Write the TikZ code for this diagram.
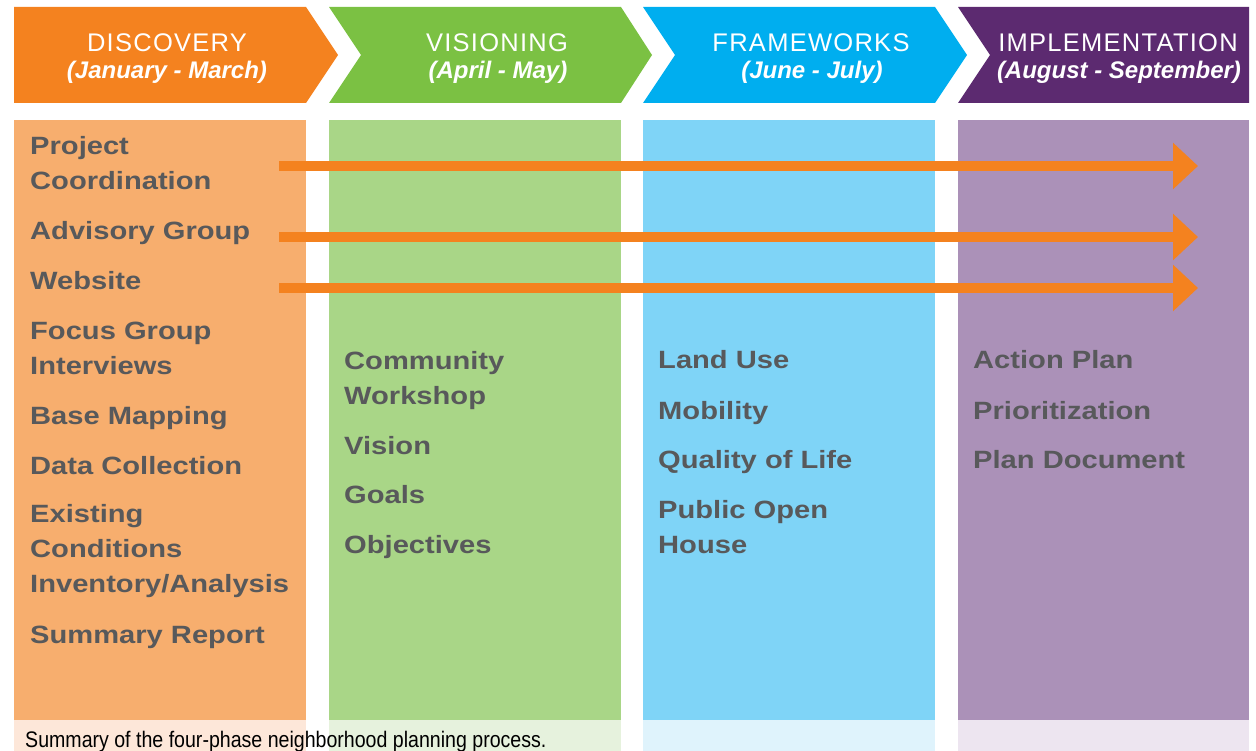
\documentclass[tikz,border=0pt]{standalone}
\usepackage{fontspec}
\setmainfont{Liberation Sans}
\newfontfamily\phasefont[LetterSpace=5]{Liberation Sans}
\newfontfamily\taskfont[FakeStretch=1.165]{Liberation Sans}
\newfontfamily\notefont[FakeStretch=0.87]{Liberation Sans}
\usepackage{tikz}
\usetikzlibrary{arrows.meta}

\definecolor{discHead}{HTML}{F4821F}
\definecolor{discBody}{HTML}{F7AE6E}
\definecolor{discPale}{HTML}{FDE7D9}
\definecolor{visHead}{HTML}{7BC143}
\definecolor{visBody}{HTML}{A9D687}
\definecolor{visPale}{HTML}{E6F2DD}
\definecolor{frameHead}{HTML}{00AEEF}
\definecolor{frameBody}{HTML}{7FD4F7}
\definecolor{framePale}{HTML}{DFF3FC}
\definecolor{implHead}{HTML}{5C2A70}
\definecolor{implBody}{HTML}{AB91B8}
\definecolor{implPale}{HTML}{EDE5F0}
\definecolor{taskGray}{HTML}{58595B}
\definecolor{barOrange}{HTML}{F4821F}

\begin{document}
\begin{tikzpicture}[x=1pt, y=-1pt,
    phase/.style={text=white, inner sep=0pt, anchor=base,
      font=\phasefont\fontsize{25.5}{28}\selectfont},
    months/.style={text=white, inner sep=0pt, anchor=base,
      font=\bfseries\itshape\fontsize{24}{28}\selectfont},
    task/.style={text=taskGray, inner sep=0pt, anchor=base west, align=left,
      font=\taskfont\bfseries\fontsize{25}{35}\selectfont},
    bar/.style={barOrange, line width=10pt, -{Triangle[length=25pt, width=45pt]}}]
    \useasboundingbox (0,0) rectangle (1256,751);

    % phase headers
    \fill[discHead] (14,7) -- (306,7) -- (338,55) -- (306,103) -- (14,103) -- cycle;
    \fill[visHead] (329,7) -- (621,7) -- (652,55) -- (621,103) -- (329,103) -- (361,55) -- cycle;
    \fill[frameHead] (643,7) -- (935,7) -- (967,55) -- (935,103) -- (643,103) -- (675,55) -- cycle;
    \fill[implHead] (958,7) -- (1249,7) -- (1249,103) -- (958,103) -- (990,55) -- cycle;

    % columns
    \fill[discBody] (14,120) rectangle (306,720);
    \fill[visBody] (329,120) rectangle (621,720);
    \fill[frameBody] (643,120) rectangle (935,720);
    \fill[implBody] (958,120) rectangle (1249,720);
    \fill[discPale] (14,720) rectangle (306,751);
    \fill[visPale] (329,720) rectangle (621,751);
    \fill[framePale] (643,720) rectangle (935,751);
    \fill[implPale] (958,720) rectangle (1249,751);

    \node[phase] (disc) at (167,52) {DISCOVERY};
    \node[months] (discM) at (167,79) {(January - March)};
    \node[phase] (vis) at (497,52) {VISIONING};
    \node[months] (visM) at (498,79) {(April - May)};
    \node[phase] (frame) at (811,52) {FRAMEWORKS};
    \node[months] (frameM) at (812,79) {(June - July)};
    \node[phase] (impl) at (1118,52) {IMPLEMENTATION};
    \node[months] (implM) at (1119,79) {(August - September)};

    % ongoing tasks
    \coordinate (coordL) at (279,166);
    \coordinate (coordR) at (1198,166);
    \coordinate (advisL) at (279,237);
    \coordinate (advisR) at (1198,237);
    \coordinate (webL) at (279,288);
    \coordinate (webR) at (1198,288);
    \draw[bar] (coordL) -- (coordR);
    \draw[bar] (advisL) -- (advisR);
    \draw[bar] (webL) -- (webR);

    % multi-line tasks sit on their last line
    \node[task] (coord) at (30,190) {Project\\Coordination};
    \node[task] (advis) at (30,240) {Advisory Group};
    \node[task] (web) at (30,290) {Website};
    \node[task] (focus) at (30,374) {Focus Group\\Interviews};
    \node[task] (mapping) at (30,424) {Base Mapping};
    \node[task] (data) at (30,474) {Data Collection};
    \node[task] (exist) at (30,592) {Existing\\Conditions\\Inventory/Analysis};
    \node[task] (report) at (30,643) {Summary Report};

    \node[task] (workshop) at (344,404) {Community\\Workshop};
    \node[task] (vision) at (344,454) {Vision};
    \node[task] (goals) at (344,503) {Goals};
    \node[task] (object) at (344,553) {Objectives};

    \node[task] (landuse) at (658,369) {Land Use};
    \node[task] (mobility) at (658,419) {Mobility};
    \node[task] (quality) at (658,468) {Quality of Life};
    \node[task] (house) at (658,553) {Public Open\\House};

    \node[task] (action) at (973,369) {Action Plan};
    \node[task] (priority) at (973,419) {Prioritization};
    \node[task] (document) at (973,468) {Plan Document};

    \node[inner sep=0pt, anchor=base west, font=\notefont\fontsize{22.5}{26}\selectfont]
      (note) at (25,747) {Summary of the four-phase neighborhood planning process.};
  \end{tikzpicture}
\end{document}
